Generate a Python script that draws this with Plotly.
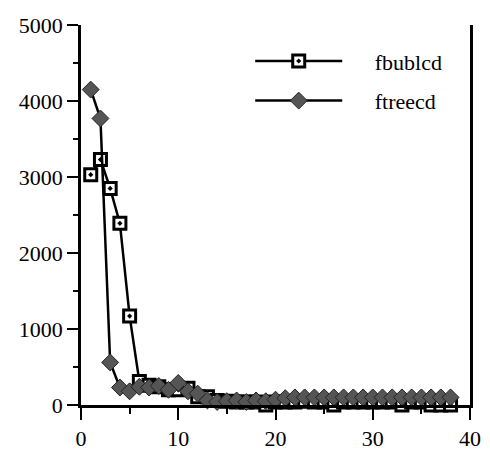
import plotly.graph_objects as go

x_vals = list(range(1, 39))
fbublcd = [3030, 3230, 2850, 2390, 1170, 310, 260, 240, 200, 200,
           220, 110, 110, 60, 50, 40, 40, 40, 0, 40,
           40, 40, 50, 40, 40, 0, 40, 40, 40, 40,
           40, 40, 0, 40, 40, 0, 0, 0]
ftreecd = [4150, 3770, 560, 230, 180, 240, 230, 250, 200, 290,
           180, 150, 60, 40, 50, 60, 40, 60, 50, 70,
           90, 100, 100, 100, 100, 100, 100, 100, 100, 100,
           100, 100, 100, 100, 100, 100, 100, 100]
x_ticks = [0, 10, 20, 30, 40]
y_ticks = [0, 1000, 2000, 3000, 4000, 5000]
series_names = ["fbublcd", "ftreecd"]

FONT = "Liberation Serif"
PAD = "\u00a0" * 5  # visual gap between legend symbol and its text

fig = go.Figure()
fig.add_trace(go.Scatter(
    x=x_vals, y=fbublcd, name=PAD + series_names[0], mode="lines+markers",
    line=dict(color="black", width=2.5),
    marker=dict(symbol="square-dot", size=12, color="white",
                line=dict(color="black", width=3)),
    cliponaxis=False, legendgroup="a",
))
fig.add_trace(go.Scatter(
    x=x_vals, y=ftreecd, name=PAD + series_names[1], mode="lines+markers",
    line=dict(color="black", width=2.5),
    marker=dict(symbol="diamond", size=13, color="#555555",
                line=dict(color="#222222", width=1)),
    cliponaxis=False, legendgroup="b",
))

axis_common = dict(
    showgrid=False, zeroline=False, showline=True, linecolor="black",
    linewidth=2.5, ticks="outside", tickcolor="black", tickwidth=2,
    automargin=False,
    tickfont=dict(family=FONT, size=22, color="black"),
)

fig.update_layout(
    width=482, height=442,
    margin=dict(l=73, r=20, t=17, b=45),
    plot_bgcolor="white", paper_bgcolor="white",
    xaxis=dict(range=[0, 40], tickvals=x_ticks, ticklen=12,
               minor=dict(dtick=5, ticklen=6, ticks="outside",
                          tickcolor="black", tickwidth=2),
               **axis_common),
    yaxis=dict(range=[0, 5000], tickvals=y_ticks, ticklen=11, mirror=True,
               minor=dict(dtick=500, ticklen=5, ticks="outside",
                          tickcolor="black", tickwidth=2),
               **axis_common),
    legend=dict(x=0.435, y=0.96, xanchor="left", yanchor="top",
                itemwidth=87, bgcolor="rgba(0,0,0,0)", tracegroupgap=8,
                font=dict(family=FONT, size=22, color="black")),
)

fig.write_html("out.html")
